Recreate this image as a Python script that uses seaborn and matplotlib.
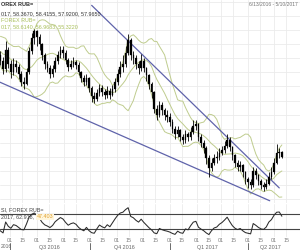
import numpy as np
import pandas as pd
import matplotlib
matplotlib.use("Agg")
import matplotlib.pyplot as plt
import matplotlib.dates as mdates
from matplotlib.transforms import blended_transform_factory
import seaborn as sns

# ---------------- data (USD/RUB, one candle per 3 calendar days) ----------------
first_date = "2016-05-24"
first_open = 66.0
close = [
    66.2, 65.9, 66.3, 65.8, 65.4, 64.8, 64.9, 65.6, 65.2,
    64.8, 64.2, 65.6, 64.6, 64.0, 64.6, 64.4, 63.9, 63.3, 63.2,
    64.0, 65.5, 66.4, 66.9, 66.5, 66.0, 65.2, 64.6, 64.3, 63.9,
    64.2, 64.8, 65.2, 65.6, 65.4, 64.9, 64.4, 64.6, 64.7, 64.5,
    64.0, 63.6, 63.3, 63.6, 62.9, 62.3, 62.1, 62.5, 62.9, 62.6,
    62.4, 62.7, 62.4, 62.8, 63.3, 63.9, 64.4, 64.6, 65.4, 66.3,
    65.2, 65.0, 64.6, 64.3, 64.8, 64.3, 63.8, 63.2, 62.6, 61.4,
    61.0, 61.7, 61.3, 61.0, 60.8, 60.5, 60.0, 59.6, 59.9, 59.4,
    59.2, 59.6, 59.4, 59.8, 60.2, 60.3, 59.4, 59.0, 58.6, 57.9,
    57.2, 57.6, 57.9, 58.0, 58.3, 58.5, 58.8, 59.2, 58.7, 58.1,
    57.6, 57.3, 57.4, 56.9, 56.4, 56.2, 56.0, 57.0, 56.7, 56.3,
    56.0, 55.9, 56.1, 56.6, 56.9, 57.6, 58.3, 58.367, 57.965,
]
high = [
    66.6, 66.4, 66.6, 66.4, 65.9, 65.5, 65.3, 65.9, 65.8,
    65.5, 65.1, 66.2, 65.8, 64.9, 65.0, 64.9, 64.6, 64.1, 63.7,
    64.3, 65.8, 66.8, 67.1, 67.0, 66.7, 66.1, 65.4, 64.8, 64.5,
    64.5, 65.1, 65.5, 65.9, 65.9, 65.6, 65.0, 64.9, 65.1, 64.9,
    64.7, 64.1, 63.8, 63.9, 63.7, 63.0, 62.6, 62.8, 63.2, 63.1,
    62.8, 63.0, 62.9, 63.1, 63.6, 64.2, 64.8, 65.2, 65.9, 66.7,
    66.4, 65.5, 65.2, 64.8, 65.3, 65.0, 64.4, 63.9, 63.3, 62.7,
    61.7, 62.0, 61.9, 61.5, 61.3, 61.1, 60.7, 60.2, 60.2, 60.0,
    59.6, 59.9, 59.8, 60.1, 60.6, 60.6, 60.4, 59.6, 59.2, 58.8,
    58.1, 57.9, 58.2, 58.4, 58.6, 58.8, 59.1, 59.6, 59.4, 58.8,
    58.2, 57.8, 57.7, 57.5, 57.0, 56.6, 56.4, 57.3, 57.2, 56.8,
    56.4, 56.2, 56.4, 56.9, 57.3, 57.9, 58.9, 58.6, 58.4155,
]
low = [
    65.8, 65.6, 65.7, 65.5, 65.0, 64.5, 64.5, 64.7, 65.0,
    64.5, 63.9, 64.0, 64.3, 63.6, 63.8, 64.0, 63.5, 63.0, 62.8,
    63.1, 63.9, 65.3, 66.0, 65.9, 65.6, 64.9, 64.2, 64.0, 63.6,
    63.7, 64.0, 64.6, 65.0, 65.0, 64.6, 64.1, 64.2, 64.4, 64.2,
    63.8, 63.3, 63.0, 63.1, 62.6, 61.9, 61.8, 62.0, 62.3, 62.3,
    62.1, 62.2, 62.1, 62.3, 62.6, 63.1, 63.7, 64.0, 64.4, 65.2,
    64.9, 64.6, 64.2, 63.9, 64.1, 64.0, 63.4, 62.8, 62.2, 61.1,
    60.6, 60.8, 61.0, 60.6, 60.5, 60.2, 59.7, 59.3, 59.4, 59.1,
    58.9, 59.0, 59.1, 59.2, 59.6, 59.9, 59.1, 58.7, 58.3, 57.5,
    56.6, 57.0, 57.4, 57.6, 57.8, 58.1, 58.3, 58.6, 58.4, 57.8,
    57.3, 57.0, 57.0, 56.6, 56.1, 55.8, 55.7, 55.9, 56.4, 56.0,
    55.7, 55.6, 55.7, 56.0, 56.4, 56.8, 57.5, 57.9, 57.92,
]

# drawn trend lines
lower_tl_dates = ["2016-06-19", "2017-04-26"]
lower_tl_prices = [63.31, 54.89]
upper_tl_dates = ["2016-10-03", "2017-05-07"]
upper_tl_prices = [68.75, 55.80]

quarter_starts = ["2016-07-01", "2016-10-01", "2017-01-01", "2017-04-01"]
quarter_labels = ["Q3 2016", "Q4 2016", "Q1 2017", "Q2 2017"]
quarter_label_dates = ["2016-08-15", "2016-11-10", "2017-02-13", "2017-04-27"]
left_quarter_label = "2016"

header_lines = ["OREX RUB=", "017, 58.3670, 58.4155, 57.9200, 57.9650"]
bb_lines = ["FOREX RUB=", "017, 58.6140, 56.9683, 55.3220"]
rsi_lines = ["SI, FOREX RUB=", "2017, 62.918,", "47.403"]
date_range_text = "6/13/2016 - 5/10/2017"

# ---------------- derived series ----------------
dates = pd.date_range(first_date, periods=len(close), freq="3D")
c = pd.Series(close, index=dates)
o = pd.Series([first_open] + close[:-1], index=dates)
h = pd.Series(high, index=dates)
l = pd.Series(low, index=dates)

win = 10
mid = c.rolling(win).mean()
sd = c.rolling(win).std(ddof=0)
bb = pd.DataFrame({"date": dates, "upper": mid + 2 * sd, "mid": mid, "lower": mid - 2 * sd})

delta = c.diff()
gain = delta.clip(lower=0).ewm(alpha=1 / 7, adjust=False).mean()
loss = (-delta.clip(upper=0)).ewm(alpha=1 / 7, adjust=False).mean()
rsi = 100 - 100 / (1 + gain / loss)
rsi_df = pd.DataFrame({"date": dates, "rsi": rsi.values}).dropna()

# ---------------- figure ----------------
sns.set_theme(style="white")
plt.rcParams["font.family"] = ["Liberation Sans", "DejaVu Sans"]

W, H = 300, 250
fig = plt.figure(figsize=(W / 100, H / 100), dpi=100)
fig.patch.set_facecolor("white")

px_per_day = 238 / 274.0
x_start = mdates.date2num(pd.Timestamp("2016-07-01")) - 10 / px_per_day
x_end = x_start + W / px_per_day

ax = fig.add_axes([0, 1 - 203 / H, 1, 203 / H])
axr = fig.add_axes([0, 1 - 237 / H, 1, 33 / H])

grid_dates = []
for y in (2016, 2017):
    for m in range(1, 13):
        for d in (1, 15):
            t = pd.Timestamp(year=y, month=m, day=d)
            if pd.Timestamp("2016-06-01") <= t <= pd.Timestamp("2017-06-01"):
                grid_dates.append(t)
label_dates = [t for t in grid_dates
               if 4 <= (mdates.date2num(t) - x_start) * px_per_day <= 294]

grid_c = "#ebebeb"
for a in (ax, axr):
    a.set_facecolor("white")
    for s in a.spines.values():
        s.set_visible(False)
    for t in grid_dates:
        a.axvline(t, color=grid_c, lw=0.6, zorder=0)
    a.set_xlim(x_start, x_end)

ax.set_ylim(54.73, 69.13)
for p in np.arange(55, 70, 1.0):
    ax.axhline(p, color=grid_c, lw=0.6, zorder=0)

# Bollinger bands
band_c = "#bfcc8e"
for col in ("upper", "mid", "lower"):
    sns.lineplot(data=bb, x="date", y=col, ax=ax, color=band_c, lw=0.7, zorder=2)

# trend lines
tl_c = "#5f63aa"
ax.plot(pd.to_datetime(lower_tl_dates), lower_tl_prices, color=tl_c, lw=0.9, zorder=3)
ax.plot(pd.to_datetime(upper_tl_dates), upper_tl_prices, color=tl_c, lw=0.9, zorder=3)

# candles
ax.vlines(dates, l, h, color="black", lw=0.6, zorder=4)
body_lo = np.minimum(o.values, c.values)
body_h = np.maximum(np.abs(c.values - o.values), 0.05)
ax.bar(dates, body_h, bottom=body_lo, width=1.9, color="black", edgecolor="black", lw=0.2, zorder=5)

ax.set_xticks([])
ax.set_yticks([])
ax.set_xlabel("")
ax.set_ylabel("")

# RSI panel
axr.set_ylim(10, 95)
axr.axhline(70, color="#444444", lw=0.8, zorder=2)
axr.axhline(30, color="#444444", lw=0.8, zorder=2)
sns.lineplot(data=rsi_df, x="date", y="rsi", ax=axr, color="#2b2b2b", lw=0.75, zorder=3)
axr.set_yticks([])
axr.set_ylabel("")
axr.set_xlabel("")
axr.set_xticks(label_dates)
axr.xaxis.set_major_formatter(mdates.DateFormatter("%d"))
axr.tick_params(axis="x", length=0, pad=0.8, labelsize=3.8, labelcolor="#7a7a7a")

# quarter labels and separators
trans = blended_transform_factory(axr.transData, fig.transFigure)
for qs in quarter_starts:
    axr.plot([pd.Timestamp(qs)] * 2, [1 - 243 / H, 1 - 250 / H], color="#555555", lw=0.6,
             transform=trans, clip_on=False)
for qd, ql in zip(quarter_label_dates, quarter_labels):
    axr.text(pd.Timestamp(qd), 1 - 247 / H, ql, transform=trans, ha="center", va="center",
             fontsize=3.9, color="#666666")
fig.text(1 / W, 1 - 247 / H, left_quarter_label, ha="left", va="center",
         fontsize=3.6, color="#666666")

# header texts
def ftxt(x, y, s, **kw):
    fig.text(x / W, 1 - y / H, s, va="center", **kw)

ftxt(1, 4, header_lines[0], ha="left", fontsize=4.0, color="#333333", fontweight="bold")
ftxt(1, 14, header_lines[1], ha="left", fontsize=3.9, color="#333333")
ftxt(1, 20, bb_lines[0], ha="left", fontsize=3.9, color="#a9bf5a")
ftxt(1, 27, bb_lines[1], ha="left", fontsize=3.9, color="#a9bf5a")
ftxt(298, 4, date_range_text, ha="right", fontsize=3.6, color="#777777")
ftxt(1, 210, rsi_lines[0], ha="left", fontsize=3.9, color="#444444")
ftxt(1, 217, rsi_lines[1], ha="left", fontsize=3.9, color="#444444")
ftxt(37, 217, rsi_lines[2], ha="left", fontsize=3.9, color="#e0a030",
     bbox=dict(boxstyle="square,pad=0.1", fc="#fff6dc", ec="none"))

fig.savefig("out.png", dpi=100)
